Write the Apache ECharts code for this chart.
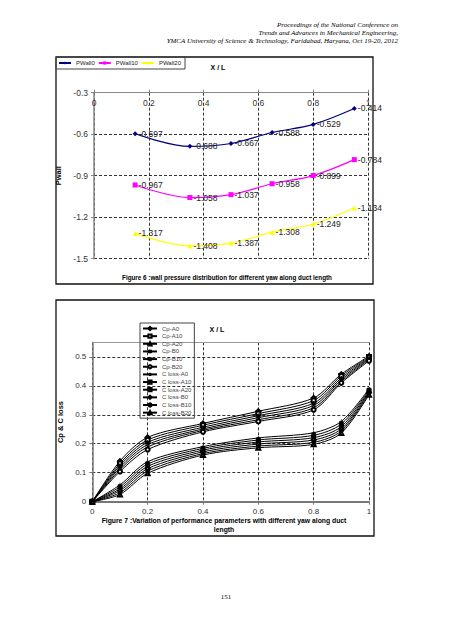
<!DOCTYPE html>
<html><head><meta charset="utf-8">
<script src="https://cdn.jsdelivr.net/npm/echarts@6/dist/echarts.min.js"></script>
<style>html,body{margin:0;padding:0;background:#fff}#c{width:452px;height:640px}</style>
</head><body><div id="c"></div>
<script>
// ---- Figure 6 data ----
const xPwall = [0.15, 0.35, 0.5, 0.65, 0.8, 0.95];
const pwall0 = [-0.597, -0.688, -0.667, -0.588, -0.529, -0.414];
const pwall10 = [-0.967, -1.058, -1.037, -0.958, -0.899, -0.784];
const pwall20 = [-1.317, -1.408, -1.387, -1.308, -1.249, -1.134];
const pwallNames = ['PWall0', 'PWall10', 'PWall20'];

// ---- Figure 7 data ----
const xCp = [0, 0.1, 0.2, 0.4, 0.6, 0.8, 0.9, 1.0];
const cpA0  = [0, 0.140, 0.222, 0.270, 0.312, 0.358, 0.440, 0.502];
const cpA10 = [0, 0.132, 0.213, 0.264, 0.304, 0.349, 0.434, 0.499];
const cpA20 = [0, 0.125, 0.205, 0.257, 0.297, 0.340, 0.427, 0.496];
const cpB0  = [0, 0.118, 0.197, 0.251, 0.290, 0.332, 0.421, 0.493];
const cpB10 = [0, 0.111, 0.189, 0.246, 0.283, 0.324, 0.415, 0.490];
const cpB20 = [0, 0.104, 0.180, 0.241, 0.277, 0.317, 0.410, 0.486];
const clA0  = [0, 0.058, 0.138, 0.190, 0.220, 0.238, 0.277, 0.389];
const clA10 = [0, 0.051, 0.130, 0.184, 0.213, 0.229, 0.268, 0.385];
const clA20 = [0, 0.044, 0.122, 0.178, 0.206, 0.221, 0.259, 0.381];
const clB0  = [0, 0.038, 0.114, 0.172, 0.199, 0.213, 0.251, 0.377];
const clB10 = [0, 0.031, 0.106, 0.166, 0.192, 0.205, 0.244, 0.373];
const clB20 = [0, 0.025, 0.098, 0.161, 0.186, 0.198, 0.237, 0.369];
const fig7Names = ['Cp-A0','Cp-A10','Cp-A20','Cp-B0','Cp-B10','Cp-B20','C loss-A0','C loss-A10','C loss-A20','C loss-B0','C loss-B10','C loss-B20'];
const fig7Values = [cpA0, cpA10, cpA20, cpB0, cpB10, cpB20, clA0, clA10, clA20, clB0, clB10, clB20];

const headerLines = ['Proceedings of the National Conference on','Trends and Advances in Mechanical Engineering,','YMCA University of Science & Technology, Faridabad, Haryana, Oct 19-20, 2012'];

const chart = echarts.init(document.getElementById('c'), null, {renderer: 'svg'});
const pair = (xs, ys) => xs.map((x, i) => [x, ys[i]]);
const SANS = 'Liberation Sans, Arial, sans-serif';
const SERIF = 'Liberation Serif, Times New Roman, serif';

const pwColors = ['#000080', '#FF00FF', '#FFFF00'];
const pwSymbols = ['diamond', 'rect', 'triangle'];
const pwData = [pwall0, pwall10, pwall20];

const f7Symbols = ['emptyDiamond','emptyRect','triangle','path://M0,0L10,10M10,0L0,10','path://M0,0L10,10M10,0L0,10M5,0L5,10','emptyCircle',
  'path://M5,0L5,10M0,5L10,5','path://M0,4L10,4L10,6L0,6Z','rect','emptyDiamond','circle','emptyTriangle'];

const series = [];
pwData.forEach((d, i) => {
  series.push({
    name: pwallNames[i], type: 'line', xAxisIndex: 0, yAxisIndex: 0,
    data: pair(xPwall, d), smooth: 0.35, symbol: pwSymbols[i], symbolSize: 5,
    lineStyle: {color: pwColors[i], width: 1.2}, itemStyle: {color: pwColors[i]},
    label: {show: true, position: 'right', distance: 1, fontFamily: SANS, fontSize: 8.5, color: '#222',
      formatter: p => p.value[1].toFixed(3)},
    z: 3
  });
});
fig7Values.forEach((d, i) => {
  series.push({
    name: fig7Names[i], type: 'line', xAxisIndex: 1, yAxisIndex: 1,
    data: pair(xCp, d), smooth: 0.3, symbol: f7Symbols[i], symbolSize: 4,
    lineStyle: {color: '#000', width: 1}, itemStyle: {color: '#000', borderColor: '#000', borderWidth: 0.8}
  });
});

const dash = {show: true, lineStyle: {color: '#000', type: [3, 2], width: 0.8}};
const txt = (x, y, s, size, opts) => ({type: 'text', x: x, y: y, z: 10,
  style: Object.assign({text: s, fill: '#000', fontFamily: SANS, fontSize: size, align: 'center', verticalAlign: 'middle'}, opts || {})});

const option = {
  backgroundColor: '#fff',
  animation: false,
  grid: [
    {left: 94, top: 92.7, width: 274, height: 166},
    {left: 92.3, top: 342.3, width: 276.7, height: 159.4}
  ],
  legend: [
    {data: pwallNames, left: 56, top: 57, orient: 'horizontal', borderColor: '#444', borderWidth: 1, padding: [3, 4, 3, 2],
      itemWidth: 12, itemHeight: 4, itemGap: 3, textStyle: {fontFamily: SANS, fontSize: 6, color: '#222'}},
    {data: fig7Names, left: 140, top: 323, orient: 'vertical', borderColor: '#444', borderWidth: 1, padding: [2, 3, 2, 2],
      itemWidth: 14, itemHeight: 4, itemGap: 0.65, textStyle: {fontFamily: SANS, fontSize: 6, lineHeight: 7, color: '#444'}}
  ],
  xAxis: [
    {gridIndex: 0, type: 'value', position: 'top', min: 0, max: 1, interval: 0.2,
      axisLine: {show: true, onZero: false, lineStyle: {color: '#888', width: 1}},
      axisTick: {show: true, length: 3, lineStyle: {color: '#888'}},
      axisLabel: {inside: true, margin: 6, fontFamily: SANS, fontSize: 8.5, color: '#333'},
      splitLine: dash},
    {gridIndex: 1, type: 'value', position: 'bottom', min: 0, max: 1, interval: 0.2,
      axisLine: {show: true, onZero: false, lineStyle: {color: '#777', width: 2}},
      axisTick: {show: true, length: 3, lineStyle: {color: '#777'}},
      axisLabel: {margin: 6, fontFamily: SANS, fontSize: 8, color: '#333'},
      splitLine: dash},
    {gridIndex: 1, type: 'value', position: 'top', min: 0, max: 1,
      axisLine: {show: true, onZero: false, lineStyle: {color: '#999', width: 1}},
      axisTick: {show: false}, axisLabel: {show: false}, splitLine: {show: false}}
  ],
  yAxis: [
    {gridIndex: 0, type: 'value', min: -1.5, max: -0.3, interval: 0.3,
      name: 'Pwall', nameLocation: 'middle', nameGap: 29,
      nameTextStyle: {fontFamily: SANS, fontSize: 7.5, fontWeight: 'bold', color: '#000'},
      axisLine: {show: true, onZero: false, lineStyle: {color: '#888', width: 1.5}},
      axisTick: {show: true, length: 3, lineStyle: {color: '#888'}},
      axisLabel: {margin: 6, fontFamily: SANS, fontSize: 8.5, color: '#333', formatter: v => v.toFixed(1)},
      splitLine: dash},
    {gridIndex: 1, type: 'value', min: 0, max: 0.55, interval: 0.1,
      name: 'Cp & C loss', nameLocation: 'middle', nameGap: 28,
      nameTextStyle: {fontFamily: SANS, fontSize: 7.5, fontWeight: 'bold', color: '#000'},
      axisLine: {show: true, onZero: false, lineStyle: {color: '#777', width: 1.5}},
      axisTick: {show: true, length: 3, lineStyle: {color: '#777'}},
      axisLabel: {margin: 6, fontFamily: SANS, fontSize: 8, color: '#333', showMaxLabel: false,
        formatter: v => (Math.round(v * 10) / 10).toString()},
      splitLine: dash}
  ],
  graphic: [
    {type: 'rect', shape: {x: 56, y: 57, width: 317, height: 227}, style: {fill: 'none', stroke: '#111', lineWidth: 1.3}, z: -1},
    {type: 'rect', shape: {x: 56, y: 300, width: 318, height: 236}, style: {fill: 'none', stroke: '#111', lineWidth: 1.3}, z: -1},
    txt(398, 25, headerLines[0], 7, {fontFamily: SERIF, fontStyle: 'italic', align: 'right'}),
    txt(398, 33, headerLines[1], 7, {fontFamily: SERIF, fontStyle: 'italic', align: 'right'}),
    txt(398, 41, headerLines[2], 7, {fontFamily: SERIF, fontStyle: 'italic', align: 'right'}),
    txt(218, 67, 'X / L', 7, {fontWeight: 'bold'}),
    txt(227, 277.7, 'Figure 6 :wall pressure distribution for different yaw along duct length', 6.3, {fontWeight: 'bold'}),
    txt(217, 329, 'X / L', 7, {fontWeight: 'bold'}),
    txt(224, 520, 'Figure 7 :Variation of performance parameters with different yaw along duct', 6.8, {fontWeight: 'bold'}),
    txt(224, 529.5, 'length', 6.8, {fontWeight: 'bold'}),
    txt(226, 597, '151', 7, {fontFamily: SERIF})
  ],
  series: series
};
chart.setOption(option);
</script>
</body></html>
